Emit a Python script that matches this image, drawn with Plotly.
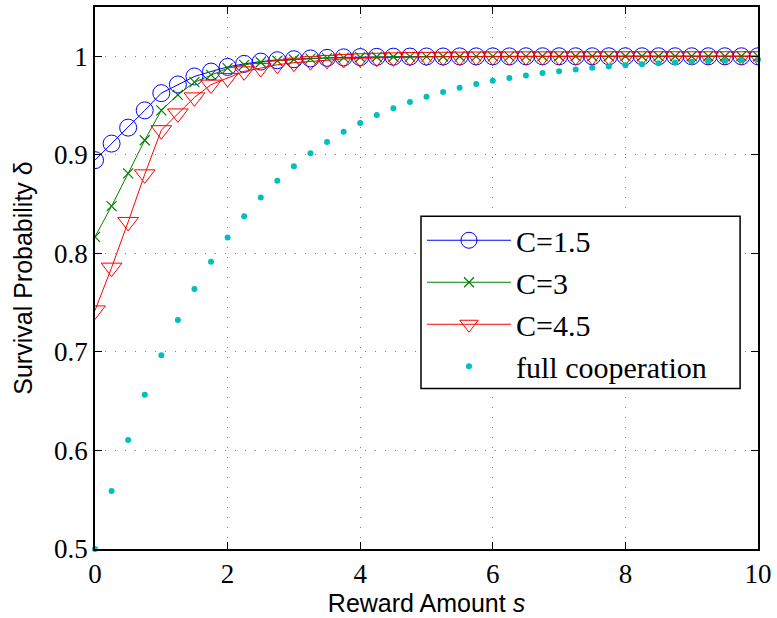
import plotly.graph_objects as go

# Reward amount s, sampled every 0.25 from 0 to 10
reward = [i * 0.25 for i in range(41)]

# Survival probability for each cost level
surv_c15 = [0.8946, 0.9114, 0.9276, 0.9451, 0.9626, 0.9714, 0.9795, 0.9845, 0.9892, 0.9923,
            0.9946, 0.9960, 0.9970, 0.9978, 0.9984, 0.9989, 0.9992, 0.9994, 0.9996, 0.9997,
            0.9998, 0.9998, 0.9999, 0.9999, 0.9999, 0.9999, 1.0, 1.0, 1.0, 1.0,
            1.0, 1.0, 1.0, 1.0, 1.0, 1.0, 1.0, 1.0, 1.0, 1.0, 1.0]
surv_c3 = [0.8168, 0.8480, 0.8811, 0.9148, 0.9451, 0.9609, 0.9737, 0.9811, 0.9879, 0.9912,
           0.9939, 0.9955, 0.9967, 0.9976, 0.9982, 0.9987, 0.9990, 0.9993, 0.9995, 0.9996,
           0.9997, 0.9998, 0.9998, 0.9999, 0.9999, 0.9999, 0.9999, 1.0, 1.0, 1.0,
           1.0, 1.0, 1.0, 1.0, 1.0, 1.0, 1.0, 1.0, 1.0, 1.0, 1.0]
surv_c45 = [0.7421, 0.7855, 0.8319, 0.8802, 0.9250, 0.9420, 0.9583, 0.9712, 0.9780, 0.9847,
            0.9880, 0.9914, 0.9935, 0.9950, 0.9963, 0.9973, 0.9980, 0.9985, 0.9989, 0.9992,
            0.9994, 0.9995, 0.9996, 0.9997, 0.9998, 0.9998, 0.9999, 0.9999, 0.9999, 0.9999,
            1.0, 1.0, 1.0, 1.0, 1.0, 1.0, 1.0, 1.0, 1.0, 1.0, 1.0]
surv_full = [0.5000, 0.5588, 0.6106, 0.6564, 0.6967, 0.7324, 0.7638, 0.7916, 0.8161, 0.8377,
             0.8568, 0.8736, 0.8884, 0.9016, 0.9131, 0.9233, 0.9323, 0.9403, 0.9473, 0.9535,
             0.9590, 0.9638, 0.9681, 0.9718, 0.9751, 0.9780, 0.9806, 0.9829, 0.9849, 0.9867,
             0.9883, 0.9896, 0.9908, 0.9919, 0.9929, 0.9937, 0.9944, 0.9951, 0.9957, 0.9962,
             0.9966]

x_ticks = [0, 2, 4, 6, 8, 10]
y_ticks = [0.5, 0.6, 0.7, 0.8, 0.9, 1.0]
y_tick_labels = ["0.5", "0.6", "0.7", "0.8", "0.9", "1"]

SERIF = "Liberation Serif, Times New Roman, serif"
SANS = "Liberation Sans, Arial, sans-serif"

fig = go.Figure()
fig.add_trace(go.Scatter(
    x=reward, y=surv_c15, name="C=1.5", mode="lines+markers", legendgroup="a",
    line=dict(color="#0000ff", width=1),
    marker=dict(symbol="circle-open", size=17, color="#0000ff", line=dict(width=1))))
fig.add_trace(go.Scatter(
    x=reward, y=surv_c3, name="C=3", mode="lines+markers", legendgroup="b",
    line=dict(color="#008000", width=1),
    marker=dict(symbol="x-thin-open", size=10, color="#008000", line=dict(width=1.2))))
fig.add_trace(go.Scatter(
    x=reward, y=surv_c45, name="C=4.5", mode="lines+markers", legendgroup="c",
    line=dict(color="#ff0000", width=1),
    marker=dict(symbol="triangle-down-open", size=18, color="#ff0000", line=dict(width=1))))
fig.add_trace(go.Scatter(
    x=reward, y=surv_full, name="full cooperation", mode="markers", legendgroup="d",
    cliponaxis=False,
    marker=dict(symbol="circle", size=6, color="#00bfbf")))

axis_common = dict(
    showline=True, linecolor="black", linewidth=1.5, mirror="ticks",
    ticks="inside", ticklen=7, tickwidth=1, tickcolor="black",
    showgrid=True, gridcolor="#7f7f7f", gridwidth=1, griddash="1px,9px",
    zeroline=False,
    tickfont=dict(family=SERIF, size=27, color="black"),
)

fig.update_xaxes(
    range=[0, 10], tickvals=x_ticks, ticktext=[str(v) for v in x_ticks],
    title=dict(text="Reward Amount <i>s</i>", font=dict(family=SANS, size=25, color="black"),
               standoff=1),
    **axis_common)
fig.update_yaxes(
    range=[0.5, 1.05], tickvals=y_ticks, ticktext=y_tick_labels,
    title=dict(text="Survival Probability δ", font=dict(family=SANS, size=25, color="black"),
               standoff=14),
    **axis_common)

# Legend frame: a white box with a black border that the legend entries sit on
fig.add_shape(
    type="rect", xref="paper", yref="paper",
    x0=0.4917, x1=0.973, y0=0.296, y1=0.614,
    fillcolor="white", line=dict(color="black", width=1.5), layer="above",
)

fig.update_layout(
    width=777, height=618,
    margin=dict(l=95, r=17, t=5, b=69),
    paper_bgcolor="white", plot_bgcolor="white",
    showlegend=True,
    legend=dict(
        x=0.4932, y=0.6176, xanchor="left", yanchor="top",
        bgcolor="rgba(0,0,0,0)", borderwidth=0,
        font=dict(family=SERIF, size=30, color="black"),
        itemwidth=84, tracegroupgap=0,
    ),
)

fig.write_html("out.html")
